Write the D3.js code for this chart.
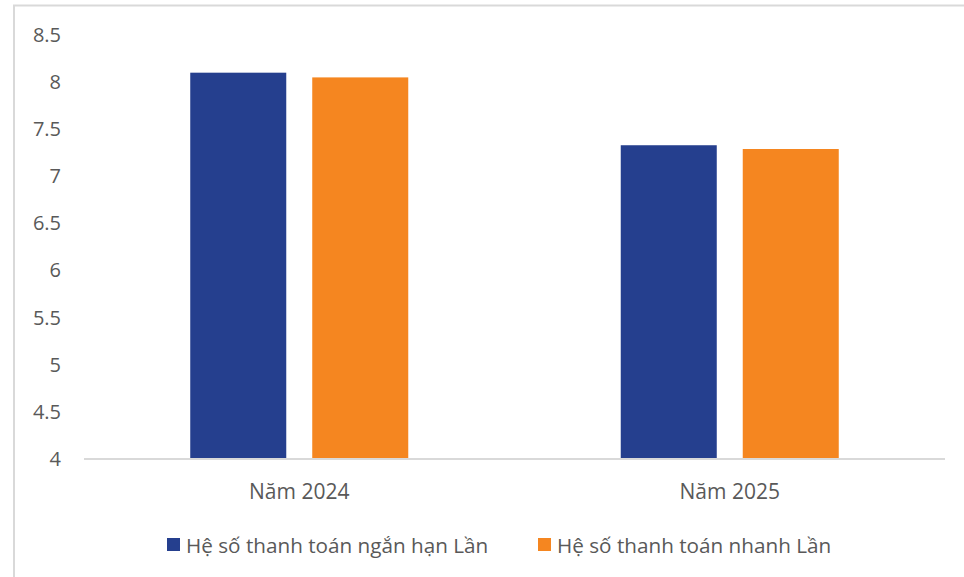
<!DOCTYPE html>
<html><head><meta charset="utf-8">
<script src="https://cdn.jsdelivr.net/npm/d3@7"></script>
<style>
html,body{margin:0;padding:0;background:#fff;}
svg{display:block;font-family:"Open Sans",sans-serif;}
</style></head>
<body><svg id="c" width="964" height="577"></svg>
<script>
const categories = ["Năm 2024", "Năm 2025"];
const seriesNames = ["Hệ số thanh toán ngắn hạn Lần", "Hệ số thanh toán nhanh Lần"];
const shortTerm = [8.1, 7.33];
const quick = [8.05, 7.29];
const yTicks = [4, 4.5, 5, 5.5, 6, 6.5, 7, 7.5, 8, 8.5];
const colors = ["#253f8e", "#f58620"];

const seriesValues = [shortTerm, quick];
const svg = d3.select("#c");
const textColor = "#595959";

// frame
svg.append("path").attr("d", "M14,577 V5.5 H964").attr("fill", "none")
  .attr("stroke", "#d9d9d9").attr("stroke-width", 2);

const plot = {left: 84, right: 945, top: 35, bottom: 459};
const y = d3.scaleLinear().domain([4, 8.5]).range([plot.bottom, plot.top]);
const x0 = d3.scaleBand().domain(categories).range([plot.left, plot.right])
  .paddingInner(0.4936).paddingOuter(0.2468);
const x1 = d3.scaleBand().domain(seriesNames).range([0, x0.bandwidth()])
  .paddingInner(0.213).paddingOuter(0);

// y axis labels
const yAxis = d3.axisLeft(y).tickValues(yTicks).tickSize(0).tickPadding(0)
  .tickFormat(d3.format("~g"));
const ya = svg.append("g").attr("transform", `translate(61,0)`).call(yAxis);
ya.select(".domain").remove();
ya.selectAll("text").attr("fill", textColor).style("font-size", "20px")
  .style("font-family", "'Open Sans',sans-serif");

// bars
const groups = svg.append("g").selectAll("g").data(categories).join("g")
  .attr("transform", d => `translate(${x0(d)},0)`);
groups.selectAll("rect").data((c, i) => seriesNames.map((s, j) => ({s, j, v: seriesValues[j][i]})))
  .join("rect")
  .attr("x", d => x1(d.s)).attr("width", x1.bandwidth())
  .attr("y", d => y(d.v)).attr("height", d => y(4) - y(d.v))
  .attr("fill", d => colors[d.j]);

// x axis
const xAxis = d3.axisBottom(x0).tickSize(0).tickPadding(0);
const xa = svg.append("g").attr("transform", `translate(0,${plot.bottom})`).call(xAxis);
xa.select(".domain").attr("stroke", "#d9d9d9").attr("stroke-width", 2)
  .attr("d", `M${plot.left},0H${plot.right}`);
xa.selectAll("text").attr("fill", textColor).style("font-size", "21px")
  .style("font-family", "'Open Sans',sans-serif").attr("dy", null).attr("y", 40);

// legend
const legendItems = [{x: 167, tx: 186}, {x: 538, tx: 557}];
const lg = svg.append("g");
seriesNames.forEach((s, j) => {
  lg.append("rect").attr("x", legendItems[j].x).attr("y", 538).attr("width", 13).attr("height", 13)
    .attr("fill", colors[j]);
  lg.append("text").attr("x", legendItems[j].tx).attr("y", 553).attr("fill", textColor)
    .style("font-size", "20.7px").text(s);
});
</script></body></html>
